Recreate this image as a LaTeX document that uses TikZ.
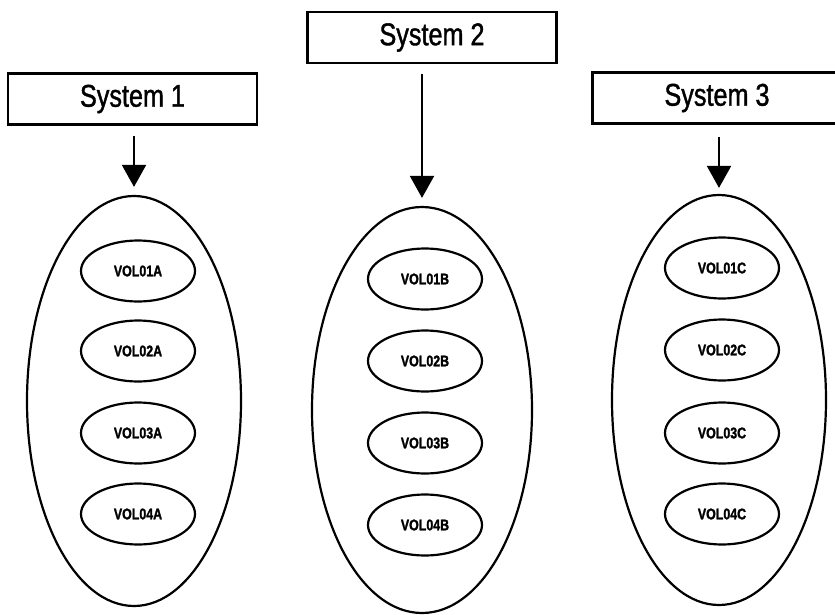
\documentclass[tikz,border=0pt]{standalone}
\usepackage{fontspec}
\usetikzlibrary{shapes.geometric,arrows.meta}
\newfontfamily\sysfont{Liberation Sans}[FakeStretch=0.8,FakeBold=1.2]
\newfontfamily\volfont{Liberation Sans}[UprightFont=*-Bold,FakeStretch=0.8,FakeBold=1.5]
\begin{document}
\begin{tikzpicture}[x=1pt,y=-1pt,
  sysbox/.style={draw,line width=2.6pt,minimum width=249pt,minimum height=51pt,inner sep=0pt,
    font=\sysfont\fontsize{31.5}{32}\selectfont},
  pool/.style={draw,ellipse,line width=2.2pt,inner sep=0pt,minimum width=214pt,minimum height=410pt},
  vol/.style={draw,ellipse,line width=2.2pt,inner sep=0pt,minimum width=114pt,minimum height=61pt,
    font=\volfont\fontsize{15.5}{16}\selectfont},
  feed/.style={line width=2pt,-{Triangle[width=24pt,length=22pt]},shorten <=10pt,shorten >=8pt}]
\useasboundingbox (0,0) rectangle (835,615);

% system boxes
\node[sysbox] (sys1) at (132.5,99) {System 1};
\node[sysbox] (sys2) at (432,37.5) {System 2};
\node[sysbox] (sys3) at (717,98) {System 3};

% volume pools
\node[pool] (pool1) at (134,401) {};
\node[pool,minimum width=220pt,minimum height=406pt] (pool2) at (422,410) {};
\node[pool] (pool3) at (719,400) {};

% volumes
\node[vol] (a1) at (138,271) {VOL01A};
\node[vol] (a2) at (138,351) {VOL02A};
\node[vol] (a3) at (138,433) {VOL03A};
\node[vol] (a4) at (138,514) {VOL04A};

\node[vol] (b1) at (425,279) {VOL01B};
\node[vol] (b2) at (425,361) {VOL02B};
\node[vol] (b3) at (425,443) {VOL03B};
\node[vol] (b4) at (425,525) {VOL04B};

\node[vol] (c1) at (722,268) {VOL01C};
\node[vol] (c2) at (722,350) {VOL02C};
\node[vol] (c3) at (722,433) {VOL03C};
\node[vol] (c4) at (722,514) {VOL04C};

% arrows from systems to their pools
\draw[feed] (sys1.south -| pool1.north) -- (pool1.north);
\draw[feed] (sys2.south -| pool2.north) -- (pool2.north);
\draw[feed,shorten <=12pt,shorten >=6pt] (sys3.south -| pool3.north) -- (pool3.north);
\end{tikzpicture}
\end{document}
